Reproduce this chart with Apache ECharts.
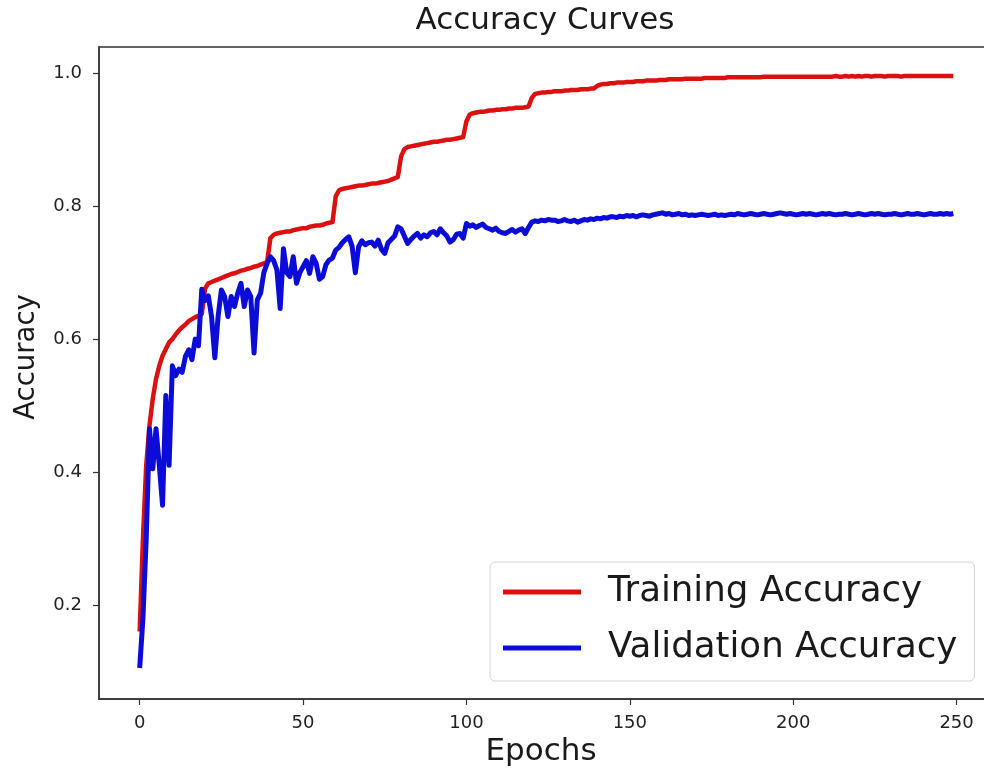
<!DOCTYPE html>
<html>
<head>
<meta charset="utf-8">
<title>Accuracy Curves</title>
<script src="https://cdn.jsdelivr.net/npm/echarts@6/dist/echarts.min.js"></script>
<style>
    html, body { margin: 0; padding: 0; background: #fff; }
    #chart { width: 984px; height: 775px; }
</style>
</head>
<body>
<div id="chart"></div>
<script>
// values, one per epoch (0..249)
const trainAcc = [
    0.160, 0.300, 0.410, 0.470, 0.510, 0.540, 0.560, 0.575, 0.585, 0.595,
    0.600, 0.607, 0.613, 0.618, 0.622, 0.627, 0.630, 0.633, 0.635, 0.638,
    0.676, 0.684, 0.686, 0.688, 0.690, 0.692, 0.694, 0.696, 0.698, 0.699,
    0.701, 0.703, 0.704, 0.706, 0.707, 0.709, 0.710, 0.712, 0.714, 0.716,
    0.752, 0.757, 0.759, 0.760, 0.761, 0.762, 0.762, 0.764, 0.765, 0.766,
    0.767, 0.767, 0.769, 0.770, 0.771, 0.771, 0.772, 0.774, 0.775, 0.776,
    0.815, 0.824, 0.826, 0.827, 0.828, 0.829, 0.830, 0.831, 0.831, 0.832,
    0.833, 0.834, 0.834, 0.835, 0.836, 0.837, 0.838, 0.840, 0.842, 0.844,
    0.875, 0.886, 0.889, 0.890, 0.891, 0.892, 0.893, 0.894, 0.895, 0.896,
    0.897, 0.897, 0.898, 0.899, 0.900, 0.900, 0.901, 0.902, 0.903, 0.904,
    0.928, 0.938, 0.940, 0.941, 0.942, 0.942, 0.943, 0.944, 0.944, 0.945,
    0.945, 0.946, 0.946, 0.947, 0.947, 0.948, 0.948, 0.948, 0.949, 0.950,
    0.963, 0.969, 0.970, 0.971, 0.971, 0.972, 0.972, 0.973, 0.973, 0.973,
    0.974, 0.974, 0.975, 0.975, 0.975, 0.976, 0.976, 0.976, 0.977, 0.977,
    0.981, 0.983, 0.984, 0.984, 0.985, 0.985, 0.986, 0.986, 0.986, 0.987,
    0.987, 0.987, 0.988, 0.988, 0.988, 0.989, 0.989, 0.989, 0.989, 0.990,
    0.990, 0.990, 0.991, 0.991, 0.991, 0.991, 0.991, 0.992, 0.992, 0.992,
    0.992, 0.992, 0.992, 0.993, 0.993, 0.993, 0.993, 0.993, 0.993, 0.993,
    0.994, 0.994, 0.994, 0.994, 0.994, 0.994, 0.994, 0.994, 0.994, 0.994,
    0.994, 0.995, 0.995, 0.995, 0.995, 0.995, 0.995, 0.995, 0.995, 0.995,
    0.995, 0.995, 0.995, 0.995, 0.995, 0.995, 0.995, 0.995, 0.995, 0.995,
    0.995, 0.995, 0.995, 0.996, 0.995, 0.995, 0.996, 0.995, 0.996, 0.995,
    0.996, 0.995, 0.996, 0.996, 0.995, 0.996, 0.996, 0.996, 0.995, 0.996,
    0.996, 0.996, 0.996, 0.995, 0.996, 0.996, 0.996, 0.996, 0.996, 0.996,
    0.996, 0.996, 0.996, 0.996, 0.996, 0.996, 0.996, 0.996, 0.996, 0.996
]

const valAcc = [
    0.105, 0.180, 0.300, 0.465, 0.405, 0.465, 0.410, 0.350, 0.515, 0.410,
    0.560, 0.545, 0.555, 0.550, 0.574, 0.584, 0.569, 0.600, 0.590, 0.675,
    0.658, 0.665, 0.634, 0.572, 0.634, 0.674, 0.664, 0.634, 0.664, 0.649,
    0.669, 0.684, 0.649, 0.674, 0.664, 0.579, 0.659, 0.669, 0.700, 0.714,
    0.724, 0.718, 0.704, 0.646, 0.736, 0.700, 0.694, 0.724, 0.684, 0.700,
    0.709, 0.718, 0.699, 0.724, 0.714, 0.690, 0.694, 0.712, 0.719, 0.722,
    0.734, 0.738, 0.745, 0.750, 0.754, 0.740, 0.700, 0.739, 0.748, 0.742,
    0.745, 0.746, 0.740, 0.749, 0.735, 0.729, 0.745, 0.750, 0.755, 0.769,
    0.766, 0.755, 0.744, 0.750, 0.755, 0.759, 0.752, 0.757, 0.754, 0.760,
    0.762, 0.757, 0.766, 0.760, 0.755, 0.746, 0.750, 0.758, 0.759, 0.752,
    0.774, 0.770, 0.772, 0.768, 0.771, 0.773, 0.768, 0.766, 0.764, 0.767,
    0.762, 0.760, 0.759, 0.762, 0.765, 0.761, 0.764, 0.766, 0.759, 0.768,
    0.776, 0.778, 0.777, 0.779, 0.778, 0.780, 0.779, 0.779, 0.777, 0.778,
    0.780, 0.778, 0.777, 0.779, 0.776, 0.778, 0.780, 0.779, 0.781, 0.780,
    0.782, 0.781, 0.783, 0.782, 0.784, 0.784, 0.783, 0.785, 0.784, 0.786,
    0.785, 0.786, 0.784, 0.786, 0.787, 0.786, 0.785, 0.787, 0.788, 0.789,
    0.790, 0.788, 0.789, 0.787, 0.788, 0.789, 0.787, 0.788, 0.786, 0.787,
    0.786, 0.787, 0.788, 0.787, 0.786, 0.787, 0.788, 0.786, 0.787, 0.786,
    0.787, 0.788, 0.787, 0.789, 0.788, 0.787, 0.788, 0.789, 0.788, 0.787,
    0.788, 0.789, 0.788, 0.787, 0.788, 0.789, 0.790, 0.789, 0.788, 0.789,
    0.788, 0.787, 0.788, 0.789, 0.788, 0.789, 0.788, 0.787, 0.788, 0.789,
    0.788, 0.789, 0.788, 0.787, 0.788, 0.788, 0.789, 0.788, 0.787, 0.788,
    0.789, 0.788, 0.787, 0.788, 0.789, 0.788, 0.789, 0.788, 0.787, 0.788,
    0.788, 0.789, 0.788, 0.787, 0.788, 0.789, 0.788, 0.788, 0.789, 0.788,
    0.787, 0.788, 0.789, 0.788, 0.788, 0.789, 0.788, 0.789, 0.788, 0.789
]

const xTicks = [0, 50, 100, 150, 200, 250]
const yTicks = [0.2, 0.4, 0.6, 0.8, 1.0]
const seriesNames = ["Training Accuracy", "Validation Accuracy"]
const titleText = "Accuracy Curves"
const xName = "Epochs"
const yName = "Accuracy"

const font = "DejaVu Sans"

let trainData = trainAcc.map((v, i) => [i, v])
let valData = valAcc.map((v, i) => [i, v])

let myChart = echarts.init(document.getElementById("chart"))

let option = {
    animation: false,
    backgroundColor: "#fff",
    // title and axis names placed by hand, like the matplotlib figure
    graphic: [{
        type: "text",
        x: 545,
        y: 21,
        style: {
            text: titleText,
            font: "31px 'DejaVu Sans'",
            fill: "#1a1a1a",
            textAlign: "center",
            textVerticalAlign: "middle"
        }
    }, {
        type: "text",
        x: 541,
        y: 752,
        style: {
            text: xName,
            font: "31px 'DejaVu Sans'",
            fill: "#1a1a1a",
            textAlign: "center",
            textVerticalAlign: "middle"
        }
    }, {
        type: "text",
        x: 27,
        y: 357,
        rotation: Math.PI / 2,
        style: {
            text: yName,
            font: "27.5px 'DejaVu Sans'",
            fill: "#1a1a1a",
            textAlign: "center",
            textVerticalAlign: "middle"
        }
    }],
    grid: {
        left: 99,
        top: 47,
        width: 895,
        height: 652,
        outerBoundsMode: "none",
        show: true,
        borderColor: "#333",
        borderWidth: 1.5
    },
    legend: {
        orient: "vertical",
        left: 490,
        top: 562,
        icon: "rect",
        itemWidth: 78,
        itemHeight: 5,
        itemGap: 20,
        padding: [12, 17, 15, 13],
        backgroundColor: "#fff",
        borderColor: "#d4d4d4",
        borderWidth: 1,
        borderRadius: 5,
        textStyle: {
            fontFamily: font,
            fontSize: 35.6,
            color: "#1a1a1a",
            padding: [0, 0, 0, 22]
        },
        data: seriesNames
    },
    xAxis: {
        type: "value",
        min: -12.45,
        max: 261.45,
        splitLine: { show: false },
        axisLine: { show: true, onZero: false, lineStyle: { color: "#333", width: 1.5 } },
        axisTick: { show: true, length: 6, customValues: xTicks, lineStyle: { color: "#333", width: 1.2 } },
        axisLabel: { customValues: xTicks, margin: 15, fontFamily: font, fontSize: 18, color: "#222" }
    },
    yAxis: {
        type: "value",
        min: 0.0584,
        max: 1.0396,
        splitLine: { show: false },
        axisLine: { show: true, onZero: false, lineStyle: { color: "#333", width: 1.5 } },
        axisTick: { show: true, length: 6, customValues: yTicks, lineStyle: { color: "#333", width: 1.2 } },
        axisLabel: {
            customValues: yTicks,
            margin: 17,
            fontFamily: font,
            fontSize: 18,
            color: "#222",
            formatter: v => v.toFixed(1)
        }
    },
    series: [{
        name: seriesNames[0],
        type: "line",
        data: trainData,
        symbol: "none",
        color: "#dd1010",
        lineStyle: { color: "#dd1010", width: 4.5, join: "round" }
    }, {
        name: seriesNames[1],
        type: "line",
        data: valData,
        symbol: "none",
        color: "#0c0cd8",
        lineStyle: { color: "#0c0cd8", width: 5, join: "round" }
    }]
}
myChart.setOption(option)
</script>
</body>
</html>
